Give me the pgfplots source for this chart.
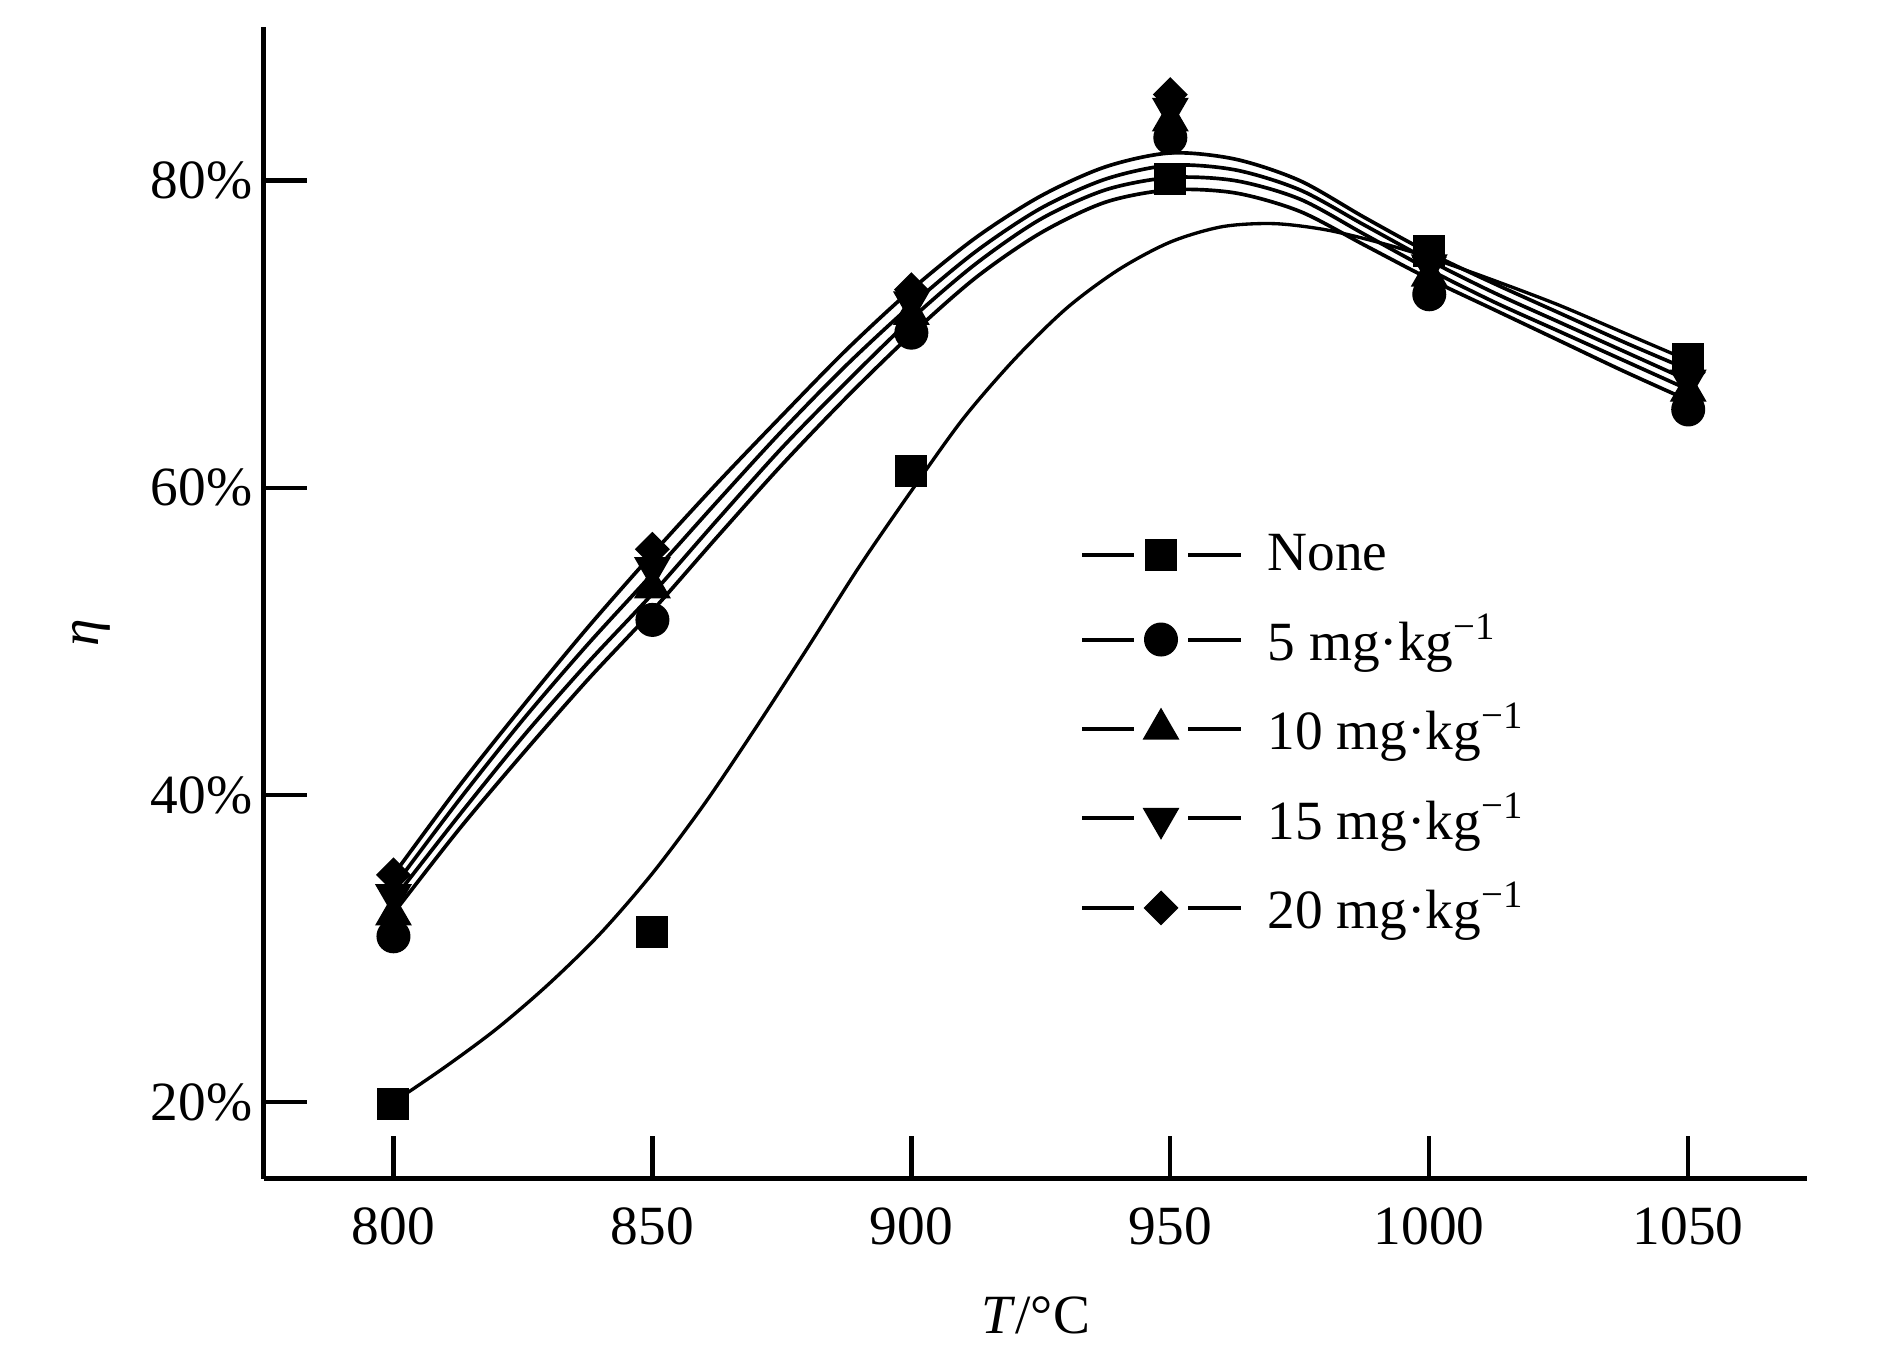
\documentclass[border=0pt]{standalone}
\usepackage{fontspec}
\setmainfont{Liberation Serif}
\usepackage{pgfplots}
\pgfplotsset{compat=1.18}
\newcommand{\fs}{\fontsize{16.6}{19.5}\selectfont}
\begin{document}
\begin{tikzpicture}
\useasboundingbox (-79.2pt,-56.1pt) rectangle (486.9pt,353.7pt);
\begin{axis}[
  at={(0pt,0pt)}, anchor=south west,
  scale only axis, width=463pt, height=345.6pt,
  xmin=775, xmax=1073, ymin=15, ymax=90,
  axis x line=bottom, axis y line=left,
  axis line style={-, line width=1.5pt, black},
  xtick={800,850,900,950,1000,1050},
  ytick={20,40,60,80},
  yticklabel={\pgfmathprintnumber{\tick}\%},
  /pgf/number format/assume math mode=true,
  /pgf/number format/1000 sep={},
  tick align=inside,
  major tick length=13pt,
  tick style={line width=1.3pt, black},
  tick label style={font=\fs},
  xticklabel style={yshift=-5pt},
  label style={font=\fs},
  xlabel={\textit{T}/°C},
  ylabel={\textit{η}},
  xlabel style={at={(axis description cs:0.5,-0.118)}, anchor=center},
  ylabel style={at={(axis description cs:-0.112,0.474)}, anchor=center},
  legend style={draw=none, fill=none, at={(0.5283,0.5658)}, anchor=north west,
    inner sep=0pt, row sep=7.4pt, column sep=5.4pt, font=\fs},
  legend cell align=left,
  clip=false,
]
% fitted curves
\addplot[black, line width=1pt, smooth, forget plot] coordinates {
(800,20.0) (810,22.3) (820,24.8) (830,27.7) (840,31.0) (850,34.9) (860,39.4)
(870,44.4) (880,49.6) (890,54.9) (900,59.8) (910,64.5) (920,68.4) (930,71.7)
(940,74.2) (950,76.0) (960,77.0) (970,77.2) (980,76.8) (990,76.0) (1000,75.0)
(1012.5,73.5) (1025,71.9) (1037.5,70.1) (1050,68.3)};
\addplot[black, line width=1.1pt, smooth, forget plot] coordinates {
(800,32.3) (812.5,37.7) (825,42.7) (837.5,47.5) (850,52.0) (862.5,56.8) (875,61.5)
(887.5,65.9) (900,70.0) (912.5,73.7) (925,76.6) (937.5,78.6) (950,79.4) (962.5,79.2)
(975,78.0) (987.5,75.8) (1000,73.6) (1012.5,71.6) (1025,69.6) (1037.5,67.6) (1050,65.7)};
\addplot[black, line width=1.1pt, smooth, forget plot] coordinates {
(800,33.2) (812.5,38.6) (825,43.8) (837.5,48.6) (850,53.1) (862.5,57.9) (875,62.6)
(887.5,66.9) (900,71.0) (912.5,74.6) (925,77.5) (937.5,79.4) (950,80.2) (962.5,80.0)
(975,78.8) (987.5,76.5) (1000,74.2) (1012.5,72.1) (1025,70.2) (1037.5,68.3) (1050,66.4)};
\addplot[black, line width=1.1pt, smooth, forget plot] coordinates {
(800,34.0) (812.5,39.6) (825,44.9) (837.5,49.8) (850,54.4) (862.5,59.1) (875,63.7)
(887.5,68.0) (900,71.9) (912.5,75.4) (925,78.2) (937.5,80.1) (950,81.0) (962.5,80.7)
(975,79.4) (987.5,77.1) (1000,74.8) (1012.5,72.7) (1025,70.8) (1037.5,68.9) (1050,67.0)};
\addplot[black, line width=1.1pt, smooth, forget plot] coordinates {
(800,34.8) (812.5,40.5) (825,45.8) (837.5,50.9) (850,55.7) (862.5,60.3) (875,64.7)
(887.5,69.0) (900,72.9) (912.5,76.3) (925,79.0) (937.5,80.9) (950,81.8) (962.5,81.4)
(975,80.0) (987.5,77.6) (1000,75.3) (1012.5,73.3) (1025,71.4) (1037.5,69.5) (1050,67.7)};
% measured points
\pgfplotsset{legimg/.style={legend image code/.code={
  \draw[black,line width=1.2pt] (0pt,0pt) -- (15.6pt,0pt) (31.8pt,0pt) -- (47.7pt,0pt);
  \draw[##1] plot coordinates {(23.7pt,0pt)};}}}
\addplot[only marks, mark=square*, mark size=4.6pt, black, legimg] coordinates {
(800,19.9) (850,31.1) (900,61.1) (950,80.1) (1000,75.4) (1050,68.4)};
\addlegendentry{None}
\addplot[only marks, mark=*, mark size=4.9pt, black, legimg] coordinates {
(800,30.8) (850,51.4) (900,70.1) (950,82.8) (1000,72.6) (1050,65.1)};
\addlegendentry{5 mg·kg\textsuperscript{−1}}
\addplot[only marks, mark=triangle*, mark size=6pt, black, legimg] coordinates {
(800,32.2) (850,53.5) (900,71.3) (950,83.9) (1000,73.8) (1050,66.3)};
\addlegendentry{10 mg·kg\textsuperscript{−1}}
\addplot[only marks, mark=triangle*, mark size=6pt, mark options={rotate=180}, black, legimg] coordinates {
(800,33.5) (850,54.8) (900,72.1) (950,84.7) (1000,74.5) (1050,67.0)};
\addlegendentry{15 mg·kg\textsuperscript{−1}}
\addplot[only marks, mark=square*, mark size=3.5pt, mark options={rotate=45}, black, legimg] coordinates {
(800,34.8) (850,56.0) (900,72.9) (950,85.6) (1000,75.0) (1050,67.5)};
\addlegendentry{20 mg·kg\textsuperscript{−1}}
\end{axis}
\end{tikzpicture}
\end{document}
